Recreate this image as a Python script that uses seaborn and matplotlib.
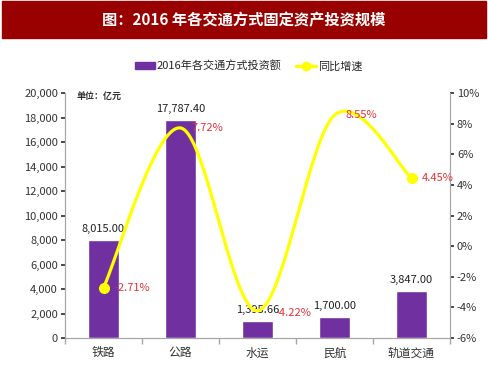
import numpy as np
import pandas as pd
import matplotlib
matplotlib.use("Agg")
import matplotlib.pyplot as plt
import seaborn as sns
from matplotlib.patches import Rectangle
from matplotlib.lines import Line2D
from matplotlib.ticker import FuncFormatter, MultipleLocator

# data
categories = ['铁路', '公路', '水运', '民航', '轨道交通']
invest = [8015.00, 17787.40, 1395.66, 1700.00, 3847.00]
growth = [-2.71, 7.72, -4.22, 8.55, 4.45]

sns.set_theme(style='white')
plt.rcParams['font.family'] = ['Noto Sans CJK SC', 'DejaVu Sans']

PURPLE = '#7030A0'
YELLOW = '#FFFF00'
RED_LBL = '#E53238'
GREY = '#A6A6A6'

fig = plt.figure(figsize=(4.88, 3.71), dpi=100)

# title bar
fig.patches.append(Rectangle((2 / 488, 1 - 38 / 371), 484 / 488, 37 / 371,
                             transform=fig.transFigure, color='#990000', zorder=0))
fig.text(0.5, 1 - 20 / 371, '图：2016 年各交通方式固定资产投资规模', color='white',
         fontsize=11, fontweight='bold', ha='center', va='center')

ax = fig.add_axes([65 / 488, 33 / 371, 385 / 488, 245 / 371])
df = pd.DataFrame({'cat': categories, 'val': invest})
sns.barplot(data=df, x='cat', y='val', color=PURPLE, saturation=1, width=0.4, ax=ax)
ax.set_xlim(-0.5, 4.5)
ax.set_ylim(0, 20000)
ax.yaxis.set_major_locator(MultipleLocator(2000))
ax.yaxis.set_major_formatter(FuncFormatter(lambda v, p: f'{v:,.0f}'))
ax.set_xlabel('')
ax.set_ylabel('')
ax.tick_params(axis='y', labelsize=8, colors='#333333', length=3, left=True, pad=2)
ax.tick_params(axis='x', labelsize=8.5, colors='#333333', length=0, pad=6)
ax.set_xticks(np.arange(-0.5, 5, 1), minor=True)
ax.tick_params(axis='x', which='minor', bottom=True, length=4, color=GREY)
for s in ['left', 'bottom', 'right']:
    ax.spines[s].set_color(GREY)
    ax.spines[s].set_linewidth(0.8)
ax.spines['top'].set_visible(False)
for i, v in enumerate(invest):
    ax.text(i, v + 500, f'{v:,.2f}', ha='center', va='bottom', fontsize=8, color='#222222')
ax.text(0.03, 0.985, '单位：亿元', transform=ax.transAxes, fontsize=6.5,
        fontweight='bold', color='#333333', va='center', ha='left')

ax2 = ax.twinx()
ax2.set_ylim(-6, 10)
ax2.yaxis.set_major_locator(MultipleLocator(2))
ax2.yaxis.set_major_formatter(FuncFormatter(lambda v, p: f'{v:.0f}%'))
ax2.tick_params(axis='y', labelsize=8, colors='#333333', length=3, right=True, pad=2)
for s in ['left', 'bottom', 'right']:
    ax2.spines[s].set_color(GREY)
    ax2.spines[s].set_linewidth(0.8)
ax2.spines['top'].set_visible(False)

# smoothed line (Excel-style Bezier through the points, computed in pixel space)
sx, sy = 77.0, 245.0 / 16.0
P = np.column_stack([np.arange(len(growth)) * sx, np.array(growth) * sy])
Pe = np.vstack([P[0], P, P[-1]])
path = []
t = np.linspace(0, 1, 40)[:, None]
for k in range(1, len(Pe) - 2):
    p0, p1, p2, p3 = Pe[k - 1], Pe[k], Pe[k + 1], Pe[k + 2]
    c1 = p1 + (p2 - p0) / 6
    c2 = p2 - (p3 - p1) / 6
    seg = ((1 - t) ** 3) * p1 + 3 * ((1 - t) ** 2) * t * c1 + 3 * (1 - t) * t ** 2 * c2 + t ** 3 * p2
    path.append(seg)
path = np.vstack(path)
sns.lineplot(x=path[:, 0] / sx, y=path[:, 1] / sy, ax=ax2, color=YELLOW, lw=2.3,
             sort=False, estimator=None)
ax2.plot([0, len(growth) - 1], [growth[0], growth[-1]], 'o', color=YELLOW, ms=7, ls='none')
offsets = [(0.14, 0), (0.14, 0), (0.24, -0.15), (0.14, 0), (0.14, 0)]
for i, g in enumerate(growth):
    dx, dy = offsets[i]
    ax2.text(i + dx, g + dy, f'{g:.2f}%', color=RED_LBL, fontsize=8, va='center', ha='left')
ax2.set_ylabel('')

# legend
handles = [Rectangle((0, 0), 1, 1, color=PURPLE),
           Line2D([0], [0], color=YELLOW, lw=2.5, marker='o', ms=6)]
fig.legend(handles, ['2016年各交通方式投资额', '同比增速'], loc='center',
           bbox_to_anchor=(0.51, 1 - 66 / 371), ncol=2, frameon=False, fontsize=8,
           handlelength=1.8, handleheight=0.6, columnspacing=1.3, handletextpad=0.2)

fig.savefig('out.png', dpi=100, facecolor='white')
